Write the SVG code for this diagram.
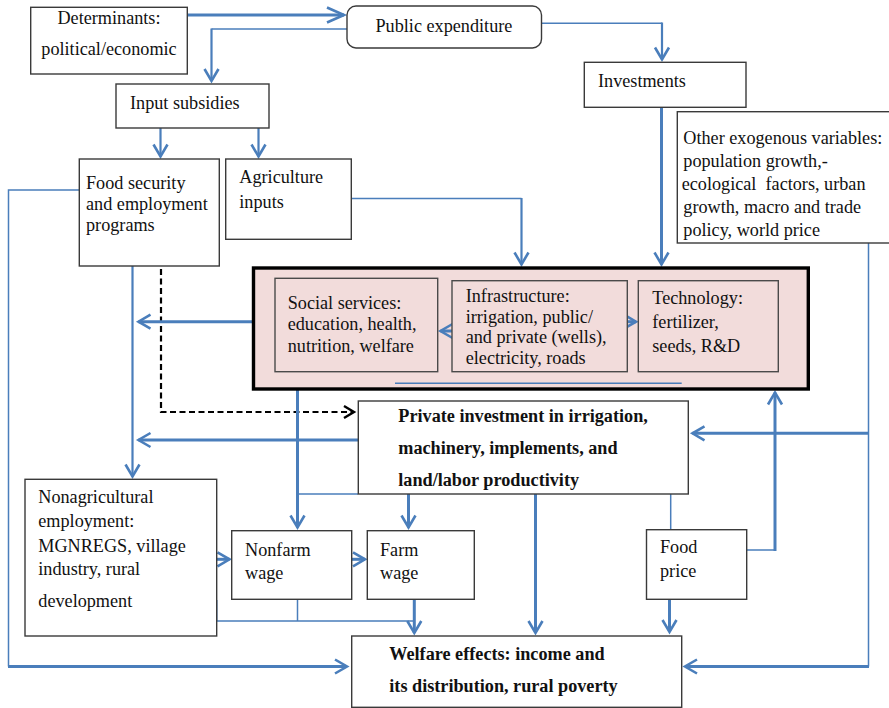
<svg xmlns="http://www.w3.org/2000/svg" width="889" height="708" viewBox="0 0 889 708">
<defs>
<style>
.box{fill:#ffffff;stroke:#3a3a3a;stroke-width:1.4}
.inner{fill:#f2dcdb;stroke:#4a4a4a;stroke-width:1.4}
.t{font-family:"Liberation Serif","Times New Roman",serif;font-size:18.2px;fill:#111}
.b{font-weight:bold}
.c{fill:none;stroke:#4a7ebb;stroke-linejoin:miter}
.th{stroke-width:1.5}
.md{stroke-width:2.2}
.tk{stroke-width:3}
.ar{marker-end:url(#ah)}
</style>
<marker id="ah" viewBox="-16 -10 20 20" markerWidth="20" markerHeight="20" refX="0" refY="0" orient="auto" markerUnits="userSpaceOnUse">
<path d="M-12,-7 L0,0 L-12,7" fill="none" stroke="#4a7ebb" stroke-width="2.6"/>
</marker>
<marker id="ahL" viewBox="-20 -10 24 20" markerWidth="24" markerHeight="20" refX="0" refY="0" orient="auto" markerUnits="userSpaceOnUse">
<path d="M-17,-7.5 L0,0 L-17,7.5" fill="none" stroke="#4a7ebb" stroke-width="2.6"/>
</marker>
<marker id="ahK" viewBox="-16 -10 20 20" markerWidth="20" markerHeight="20" refX="0" refY="0" orient="auto" markerUnits="userSpaceOnUse">
<path d="M-10,-6 L0,0 L-10,6" fill="none" stroke="#000" stroke-width="2.4"/>
</marker>
</defs>
<rect width="889" height="708" fill="#ffffff"/>

<g id="connectors">
<path class="c tk" d="M187,15 H344" marker-end="url(#ahL)"/>
<path class="c th" d="M347,29 H211.5"/>
<path class="c md ar" d="M211.5,28.5 V81"/>
<path class="c md ar" d="M160.5,128 V156.5"/>
<path class="c md ar" d="M258.5,128 V156.5"/>
<path class="c th" d="M541,23.3 H662"/>
<path class="c md ar" d="M662,22.5 V59.5"/>
<path class="c tk ar" d="M661.5,107 V264.5"/>
<path class="c th" d="M351,198.5 H521.5"/>
<path class="c md ar" d="M521.5,198 V264.5"/>
<path class="c th" d="M79,190 H8.5 V666.5"/>
<path class="c tk ar" d="M8,666.5 H347"/>
<path class="c md ar" d="M132.5,266 V476.5"/>
<path d="M161,250 V412 H354" fill="none" stroke="#000" stroke-width="2.2" stroke-dasharray="6,3.5" marker-end="url(#ahK)"/>
<path class="c tk ar" d="M253,321.7 H138.5"/>
<path class="c tk ar" d="M297.5,389 V527.5"/>
<path class="c th" d="M297.5,494 H358"/>
<path class="c tk ar" d="M408.5,494 V527.5"/>
<path class="c tk ar" d="M535.5,494 V633"/>
<path class="c tk ar" d="M358,440 H138.5"/>
<path class="c th" d="M670.7,494 V530"/>
<path class="c tk ar" d="M669.5,599.3 V632"/>
<path class="c th" d="M746.7,550 H775"/>
<path class="c tk ar" d="M775,551 V392.5"/>
<path class="c th" d="M868.5,243 V666.5"/>
<path class="c tk ar" d="M869,666.5 H685"/>
<path class="c tk ar" d="M869,433.3 H692.5"/>
<path class="c tk ar" d="M216.7,559.3 H229.5"/>
<path class="c tk ar" d="M351.7,559.3 H365"/>
<path class="c th" d="M216.7,600 V621 H414.3"/>
<path class="c th" d="M297.5,599.3 V621"/>
<path class="c tk ar" d="M414.3,599.3 V633"/>
</g>

<g id="determinants">
<rect class="box" x="30.7" y="7.3" width="156.6" height="66.7"/>
<text class="t" x="109" y="24" text-anchor="middle">Determinants:</text>
<text class="t" x="109" y="55" text-anchor="middle">political/economic</text>
</g>

<g id="public-expenditure">
<rect class="box" x="347" y="6" width="194.5" height="42" rx="9"/>
<text class="t" x="375.5" y="32">Public expenditure</text>
</g>

<g id="input-subsidies">
<rect class="box" x="116" y="84" width="153" height="44"/>
<text class="t" x="130" y="109">Input subsidies</text>
</g>

<g id="investments">
<rect class="box" x="584.3" y="62.3" width="161.7" height="45"/>
<text class="t" x="598" y="86.5">Investments</text>
</g>

<g id="other-exogenous">
<rect class="box" x="677.3" y="111.7" width="215" height="131.3"/>
<text class="t" x="683.3" y="144">Other exogenous variables:</text>
<text class="t" x="683.3" y="167">population growth,-</text>
<text class="t" x="681.7" y="190" xml:space="preserve">ecological  factors, urban</text>
<text class="t" x="683.3" y="213">growth, macro and trade</text>
<text class="t" x="683.3" y="236">policy, world price</text>
</g>

<g id="food-security">
<rect class="box" x="79.3" y="159" width="140" height="107"/>
<text class="t" x="86" y="189">Food security</text>
<text class="t" x="86" y="210">and employment</text>
<text class="t" x="86" y="231">programs</text>
</g>

<g id="agriculture-inputs">
<rect class="box" x="225.7" y="159" width="125.6" height="80.3"/>
<text class="t" x="239.3" y="183">Agriculture</text>
<text class="t" x="239.3" y="207.7">inputs</text>
</g>

<g id="public-goods">
<rect x="253.5" y="268" width="554.8" height="121" fill="#f2dcdb" stroke="#000" stroke-width="3.4"/>
<path class="c th" d="M395,383.3 H681.7"/>
<path class="c tk ar" d="M452,331 H440.5"/>
<path class="c tk ar" d="M627,321.7 H636"/>
</g>

<g id="social-services">
<rect class="inner" x="275" y="278.3" width="162.7" height="93.4"/>
<text class="t" x="287.7" y="309">Social services:</text>
<text class="t" x="287.7" y="330">education, health,</text>
<text class="t" x="287.7" y="351.5">nutrition, welfare</text>
</g>

<g id="infrastructure">
<rect class="inner" x="452" y="280.7" width="175.3" height="91"/>
<text class="t" x="465.7" y="302">Infrastructure:</text>
<text class="t" x="465.7" y="322.7">irrigation, public/</text>
<text class="t" x="465.7" y="343.3">and private (wells),</text>
<text class="t" x="465.7" y="364">electricity, roads</text>
</g>

<g id="technology">
<rect class="inner" x="638.3" y="280.7" width="140" height="91"/>
<text class="t" x="652.3" y="304.3">Technology:</text>
<text class="t" x="652.3" y="327.7">fertilizer,</text>
<text class="t" x="652.3" y="352.3">seeds, R&amp;D</text>
</g>

<g id="private-investment">
<rect class="box" x="358.3" y="401" width="330" height="93"/>
<text class="t b" x="398.3" y="421.7">Private investment in irrigation,</text>
<text class="t b" x="398.3" y="454">machinery, implements, and</text>
<text class="t b" x="398.3" y="486">land/labor productivity</text>
</g>

<g id="nonagricultural-employment">
<rect class="box" x="25" y="479.3" width="191.7" height="156.7"/>
<text class="t" x="38.3" y="503.3">Nonagricultural</text>
<text class="t" x="38.3" y="527.3">employment:</text>
<text class="t" x="38.3" y="551.7">MGNREGS, village</text>
<text class="t" x="38.3" y="575.3">industry, rural</text>
<text class="t" x="38.3" y="607.3">development</text>
</g>

<g id="nonfarm-wage">
<rect class="box" x="231.7" y="530.7" width="120" height="68.6"/>
<text class="t" x="245" y="555.5">Nonfarm</text>
<text class="t" x="245" y="579.3">wage</text>
</g>

<g id="farm-wage">
<rect class="box" x="367.3" y="530.7" width="107" height="68.6"/>
<text class="t" x="380" y="555.5">Farm</text>
<text class="t" x="380" y="579.3">wage</text>
</g>

<g id="food-price">
<rect class="box" x="646.5" y="529.7" width="100.2" height="69.6"/>
<text class="t" x="660" y="553.3">Food</text>
<text class="t" x="660" y="577.3">price</text>
</g>

<g id="welfare-effects">
<rect class="box" x="351.7" y="636" width="330" height="71.3"/>
<text class="t b" x="389.3" y="660">Welfare effects: income and</text>
<text class="t b" x="389.3" y="691.7">its distribution, rural poverty</text>
</g>
</svg>
